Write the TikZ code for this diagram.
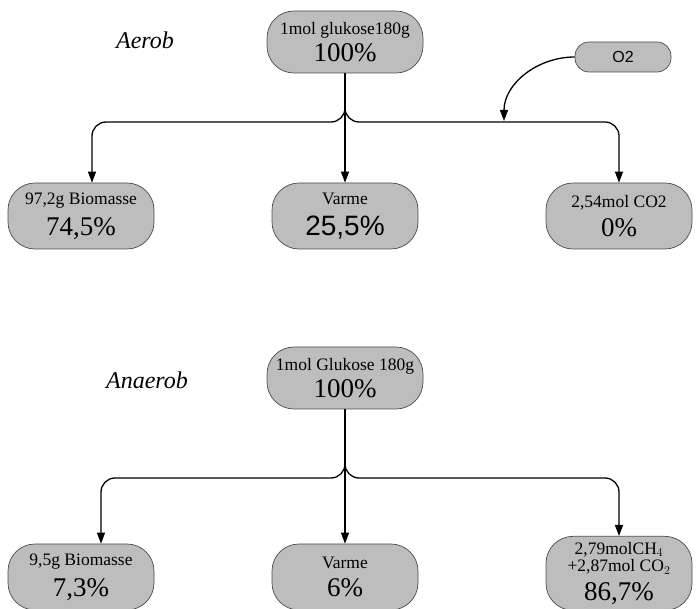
\documentclass[tikz,border=0pt]{standalone}
\usepackage{fontspec}
\setmainfont{Liberation Serif}
\newfontfamily\arialf{Liberation Sans}
\usetikzlibrary{arrows.meta}
\tikzset{
  box/.style={draw=black!70, line width=0.7pt, fill=black!26, rounded corners=27pt,
    minimum width=146pt, minimum height=66pt, align=center, inner sep=1pt},
  topbox/.style={box, minimum width=156pt, minimum height=62pt},
  obox/.style={box, rounded corners=14pt, minimum width=96pt, minimum height=30pt},
  arr/.style={draw=black, line width=1.3pt, -{Triangle[length=11pt,width=8pt]}},
  lbl/.style={font=\itshape\fontsize{24}{26}\selectfont},
}
\newcommand{\smt}{\fontsize{17.5}{19}\selectfont}
\newcommand{\bgt}{\fontsize{27}{27}\selectfont}
\begin{document}
\begin{tikzpicture}[x=1pt,y=-1pt]
\useasboundingbox (0,0) rectangle (697,609);
% ---------- Aerob ----------
\node[lbl] (aer) at (145,40) {Aerob};
\node[topbox] (A) at (345,42) {\smt 1mol glukose180g\\[5pt]\bgt 100\%};
\node[obox] (O2) at (623,57) {\arialf\fontsize{16}{18}\selectfont O2};
\node[box] (A1) at (81,216) {\smt 97,2g Biomasse\\[8pt]\bgt 74,5\%};
\node[box] (A2) at (345,216) {\smt Varme\\[10pt]\arialf\fontsize{28}{27}\selectfont 25,5\%};
\node[box] (A3) at (619,216) {\smt 2,54mol CO2\\[8pt]\bgt 0\%};
\coordinate (ja) at (345,122);
\coordinate (o2tip) at (504,121);
\draw[arr] (A.south) -- (A2.north);
\draw[arr, rounded corners=14pt] (A.south) -- (A.south |- ja) -| ([xshift=11pt]A1.north);
\draw[arr, rounded corners=14pt] (A.south) -- (A.south |- ja) -| (A3.north);
\draw[arr] (O2.west) to[out=180,in=90] (o2tip);
% ---------- Anaerob ----------
\node[lbl] (ana) at (147,380) {Anaerob};
\node[topbox] (B) at (345,378) {\smt 1mol Glukose 180g\\[5pt]\bgt 100\%};
\node[box] (B1) at (81,577) {\smt 9,5g Biomasse\\[8pt]\bgt 7,3\%};
\node[box] (B2) at (345,577) {\smt Varme\\[8pt]\bgt 6\%};
\node[box, minimum height=74pt, anchor=north] (B3) at (619,536) {\smt 2,79molCH$_4$\\[2pt]\smt +2,87mol CO$_2$\\[7pt]\bgt 86,7\%};
\coordinate (jb) at (345,478);
\draw[arr] (B.south) -- (B2.north);
\draw[arr, rounded corners=14pt] (B.south) -- (B.south |- jb) -| ([xshift=20pt]B1.north);
\draw[arr, rounded corners=14pt] (B.south) -- (B.south |- jb) -| (B3.north);
\end{tikzpicture}
\end{document}
